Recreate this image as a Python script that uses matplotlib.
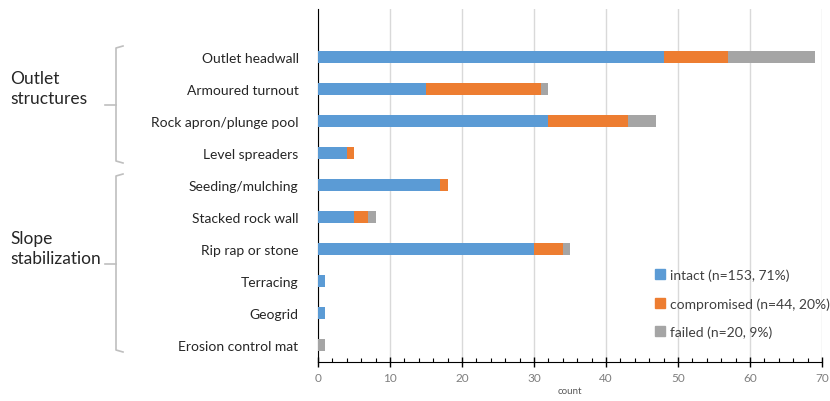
import matplotlib
matplotlib.use('Agg')
import matplotlib.pyplot as plt
import numpy as np
from matplotlib.lines import Line2D
from matplotlib.patches import Patch
from matplotlib.ticker import MultipleLocator

# Data
categories = ['Outlet headwall', 'Armoured turnout', 'Rock apron/plunge pool', 'Level spreaders',
              'Seeding/mulching', 'Stacked rock wall', 'Rip rap or stone', 'Terracing', 'Geogrid',
              'Erosion control mat']
intact = [48, 15, 32, 4, 17, 5, 30, 1, 1, 0]
compromised = [9, 16, 11, 1, 1, 2, 4, 0, 0, 0]
failed = [12, 1, 4, 0, 0, 1, 1, 0, 0, 1]
series_labels = ['intact (n=153, 71%)', 'compromised (n=44, 20%)', 'failed (n=20, 9%)']
groups = ['Outlet\nstructures', 'Slope\nstabilization']

colors = ['#5B9BD5', '#ED7D31', '#A5A5A5']

plt.rcParams['font.family'] = ['Lato', 'DejaVu Sans']

W, H = 830, 402
fig = plt.figure(figsize=(W / 100, H / 100), dpi=100)

def px(x, y):
    # pixel position -> figure fraction
    return x / W, 1 - y / H

ax = fig.add_axes([318 / W, 1 - 363 / H, (822 - 318) / W, (363 - 10) / H])

y = np.arange(len(categories))
h = 0.38
left = np.zeros(len(categories))
for vals, c in zip([intact, compromised, failed], colors):
    ax.barh(y, vals, height=h, left=left, color=c, edgecolor='none', zorder=3)
    left = left + np.array(vals)

ax.set_xlim(0, 70)
ax.set_ylim(9.53, -1.49)
ax.set_yticks(y)
ax.set_yticklabels(categories, fontsize=10, color='#262626')
ax.tick_params(axis='y', length=0, pad=14)

ax.xaxis.set_major_locator(MultipleLocator(10))
ax.xaxis.set_minor_locator(MultipleLocator(2))
ax.tick_params(axis='x', which='major', direction='inout', length=7, width=1,
               labelsize=8.5, labelcolor='#7f7f7f', pad=4)
ax.tick_params(axis='x', which='minor', direction='in', length=3, width=0.8)
ax.grid(axis='x', which='major', color='#d9d9d9', linewidth=1, zorder=0)
ax.set_xlabel('count', fontsize=7, color='#595959', labelpad=2)

for s in ['top', 'right']:
    ax.spines[s].set_visible(False)
ax.spines['left'].set_color('black')
ax.spines['bottom'].set_color('black')

handles = [Patch(color=c) for c in colors]
ax.legend(handles, series_labels, loc='upper left', bbox_to_anchor=px(642, 257),
          bbox_transform=fig.transFigure, frameon=False, fontsize=10,
          handlelength=0.75, handleheight=0.75, handletextpad=0.35,
          labelspacing=1.15, labelcolor='#404040')

# group labels and brackets
fig.text(*px(10, 89), groups[0], fontsize=12.5, color='#262626', va='center', ha='left',
         linespacing=1.25)
fig.text(*px(10, 249), groups[1], fontsize=12.5, color='#262626', va='center', ha='left',
         linespacing=1.25)

def bracket(top, bottom, mid):
    xs = [123, 116, 116, 116, 116, 123]
    ys = [top, top + 2, mid, mid, bottom - 2, bottom]
    pts = [px(a, b) for a, b in zip(xs, ys)]
    fig.add_artist(Line2D([p[0] for p in pts], [p[1] for p in pts],
                          color='#bfbfbf', linewidth=1.2, transform=fig.transFigure))
    a, b = px(105, mid)
    c, d = px(116, mid)
    fig.add_artist(Line2D([a, c], [b, d], color='#bfbfbf', linewidth=1.2,
                          transform=fig.transFigure))

bracket(47, 164, 106)
bracket(175, 353, 265)

fig.savefig('out.png', dpi=100)
